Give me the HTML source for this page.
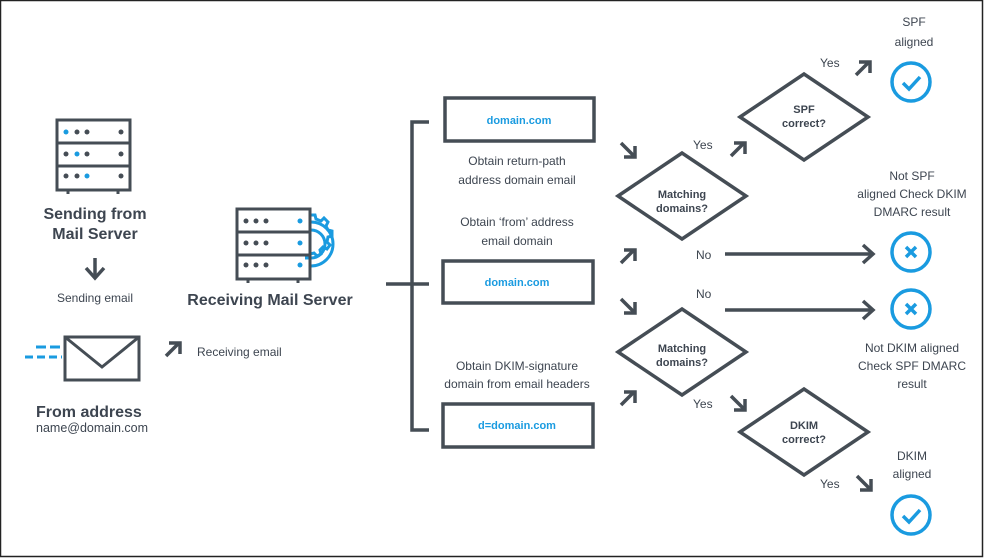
<!DOCTYPE html>
<html><head><meta charset="utf-8"><style>
html,body{margin:0;padding:0;background:#fff}
svg{display:block}
text{font-family:"Liberation Sans",sans-serif;fill:#3d4550}
.b{font-weight:bold}
.s{font-size:12px}
.bl{fill:#1a9be0;font-weight:bold;font-size:11px}
</style></head><body>
<svg width="986" height="559" viewBox="0 0 986 559" xmlns="http://www.w3.org/2000/svg">
<rect x="0.5" y="0.5" width="982" height="556" fill="#fff" stroke="#222" stroke-width="1.5"/>
<defs>
<g id="ne" fill="none" stroke="#454d55" stroke-width="3.5" stroke-linecap="butt">
<path d="M0 14 L13 1"/><path d="M3 1 H14 V12"/>
</g>
<g id="se" fill="none" stroke="#454d55" stroke-width="3.5">
<path d="M0 0 L13 13"/><path d="M3 14 H14 V3"/>
</g>
</defs>
<!-- Sending server -->
<g fill="none" stroke="#454d55" stroke-width="3">
<rect x="57" y="120" width="73" height="70"/>
<line x1="57" y1="143" x2="130" y2="143"/><line x1="57" y1="166" x2="130" y2="166"/>
<line x1="68" y1="190" x2="68" y2="194"/><line x1="118" y1="190" x2="118" y2="194"/>
</g>
<g fill="#454d55">
<circle cx="77" cy="132" r="2.5"/><circle cx="87" cy="132" r="2.5"/><circle cx="121" cy="132" r="2.5"/>
<circle cx="66" cy="154" r="2.5"/><circle cx="87" cy="154" r="2.5"/><circle cx="121" cy="154" r="2.5"/>
<circle cx="66" cy="176" r="2.5"/><circle cx="77" cy="176" r="2.5"/><circle cx="121" cy="176" r="2.5"/>
</g>
<g fill="#1a9be0"><circle cx="66" cy="132" r="2.5"/><circle cx="77" cy="154" r="2.5"/><circle cx="87" cy="176" r="2.5"/></g>
<text x="95" y="219" text-anchor="middle" class="b" font-size="16">Sending from</text>
<text x="95" y="239" text-anchor="middle" class="b" font-size="16">Mail Server</text>
<g fill="none" stroke="#454d55" stroke-width="3.5"><path d="M95 258 V277"/><path d="M86 268 L95 278 L104 268"/></g>
<text x="95" y="302" text-anchor="middle" class="s">Sending email</text>
<!-- envelope -->
<g fill="none" stroke="#454d55" stroke-width="3"><rect x="65" y="337" width="74" height="43"/><path d="M65 337 L102 367 L139 337"/></g>
<g stroke="#1a9be0" stroke-width="3"><line x1="36" y1="347" x2="62" y2="347" stroke-dasharray="10 4"/><line x1="25" y1="357" x2="62" y2="357" stroke-dasharray="8 4"/></g>
<text x="36" y="417" class="b" font-size="16">From address</text>
<text x="36" y="432" font-size="12.5">name@domain.com</text>
<use href="#ne" x="166" y="342"/>
<text x="197" y="356" class="s">Receiving email</text>
<!-- receiving server -->
<g fill="none" stroke="#1a9be0" stroke-width="3">
<path d="M311 222 A22 22 0 0 1 311 266" />
<path d="M311 230 A14 14 0 0 1 311 258"/>
<path d="M311 215 l4 0 l1 4 l5 2 l3 -3 l4 4 l-2 4 l2 4 l4 1 l0 5 l-4 1 l-1 5 l3 3 l-3 4 l-4 -2 l-3 3 l1 4 l-4 2 l-3 -3 l-4 1 l0 4 l-5 0"/>
</g>
<g fill="none" stroke="#454d55" stroke-width="3">
<rect x="237" y="209" width="73" height="70"/>
<line x1="237" y1="232" x2="310" y2="232"/><line x1="237" y1="255" x2="310" y2="255"/>
<line x1="248" y1="279" x2="248" y2="283"/><line x1="298" y1="279" x2="298" y2="283"/>
</g>
<g fill="#454d55">
<circle cx="246" cy="221" r="2.5"/><circle cx="256" cy="221" r="2.5"/><circle cx="266" cy="221" r="2.5"/>
<circle cx="246" cy="243" r="2.5"/><circle cx="256" cy="243" r="2.5"/><circle cx="266" cy="243" r="2.5"/>
<circle cx="246" cy="265" r="2.5"/><circle cx="256" cy="265" r="2.5"/><circle cx="266" cy="265" r="2.5"/>
</g>
<g fill="#1a9be0"><circle cx="300" cy="221" r="2.5"/><circle cx="300" cy="243" r="2.5"/><circle cx="300" cy="265" r="2.5"/></g>
<text x="270" y="305" text-anchor="middle" class="b" font-size="16">Receiving Mail Server</text>
<!-- bracket -->
<g fill="none" stroke="#454d55" stroke-width="3.5">
<path d="M429 122 H412 V430 H429"/><path d="M386 284 H429"/>
</g>
<g fill="none" stroke="#454d55" stroke-width="3.5">
<rect x="445" y="98" width="149" height="43"/>
<rect x="443" y="261" width="150" height="42"/>
<rect x="443" y="404" width="150" height="43"/>
</g>
<text x="519" y="124" text-anchor="middle" class="bl">domain.com</text>
<text x="517" y="286" text-anchor="middle" class="bl">domain.com</text>
<text x="517" y="429" text-anchor="middle" class="bl">d=domain.com</text>
<g class="s" text-anchor="middle">
<text x="517" y="165">Obtain return-path</text>
<text x="517" y="184">address domain email</text>
<text x="517" y="226">Obtain ‘from’ address</text>
<text x="517" y="245">email domain</text>
<text x="517" y="370">Obtain DKIM-signature</text>
<text x="517" y="388">domain from email headers</text>
</g>
<use href="#se" x="621" y="143"/>
<use href="#ne" x="621" y="249"/>
<use href="#se" x="621" y="299"/>
<use href="#ne" x="621" y="391"/>
<!-- diamonds -->
<g fill="none" stroke="#454d55" stroke-width="3.5">
<path d="M618 196 L682 153 L746 196 L682 239 Z"/>
<path d="M618 352 L682 309 L746 352 L682 395 Z"/>
<path d="M740 117 L804 74 L868 117 L804 160 Z"/>
<path d="M740 432 L804 389 L868 432 L804 475 Z"/>
</g>
<g class="b" font-size="11" text-anchor="middle">
<text x="682" y="198">Matching</text><text x="682" y="212">domains?</text>
<text x="682" y="352">Matching</text><text x="682" y="366">domains?</text>
<text x="804" y="113">SPF</text><text x="804" y="127">correct?</text>
<text x="804" y="429">DKIM</text><text x="804" y="443">correct?</text>
</g>
<g class="s">
<text x="693" y="149">Yes</text>
<text x="820" y="67">Yes</text>
<text x="696" y="259">No</text>
<text x="696" y="298">No</text>
<text x="693" y="408">Yes</text>
<text x="820" y="488">Yes</text>
</g>
<use href="#ne" x="731" y="142"/>
<use href="#ne" x="856" y="61"/>
<use href="#se" x="731" y="396"/>
<use href="#se" x="857" y="476"/>
<g fill="none" stroke="#454d55" stroke-width="3.5">
<path d="M725 254 H873"/><path d="M863 245 L873 254 L863 263"/>
<path d="M725 310 H873"/><path d="M863 301 L873 310 L863 319"/>
</g>
<!-- result circles -->
<g fill="none" stroke="#1a9be0" stroke-width="3.5">
<circle cx="911" cy="82" r="19"/><path d="M903 83 L909 89 L920 77"/>
<circle cx="911" cy="252" r="19"/><path d="M906 247 L916 257 M916 247 L906 257"/>
<circle cx="911" cy="309" r="19"/><path d="M906 304 L916 314 M916 304 L906 314"/>
<circle cx="911" cy="515" r="19"/><path d="M903 516 L909 522 L920 510"/>
</g>
<g class="s" text-anchor="middle">
<text x="914" y="26">SPF</text><text x="914" y="46">aligned</text>
<text x="912" y="180">Not SPF</text><text x="912" y="198">aligned Check DKIM</text><text x="912" y="216">DMARC result</text>
<text x="912" y="352">Not DKIM aligned</text><text x="912" y="370">Check SPF DMARC</text><text x="912" y="388">result</text>
<text x="912" y="460">DKIM</text><text x="912" y="478">aligned</text>
</g>
</svg>
</body></html>
